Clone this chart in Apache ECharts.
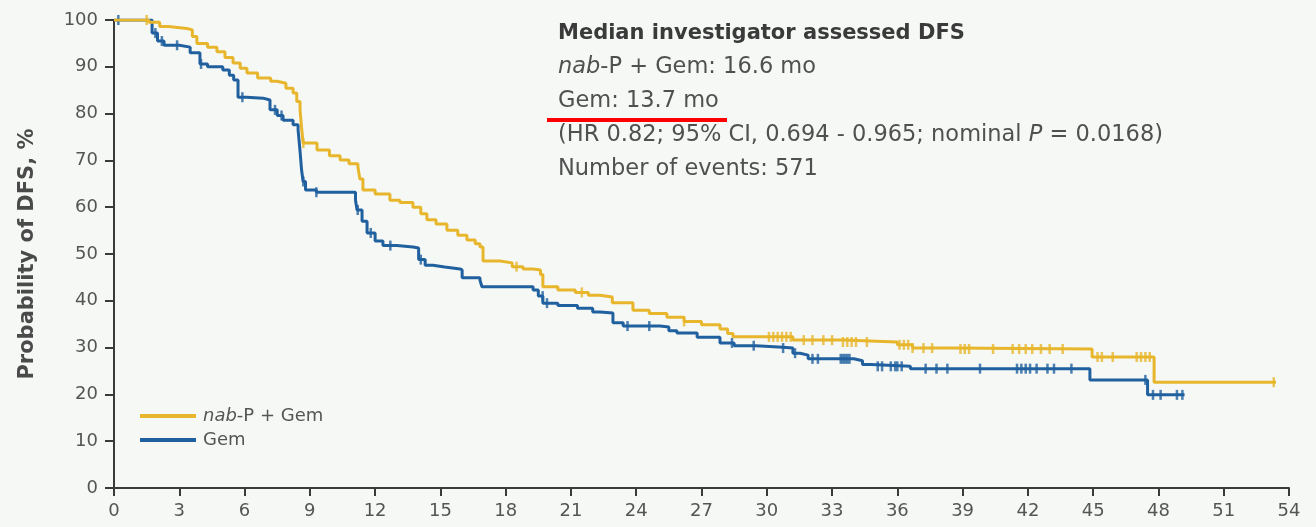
<!DOCTYPE html>
<html>
<head>
<meta charset="utf-8">
<script src="https://cdn.jsdelivr.net/npm/echarts@6/dist/echarts.min.js"></script>
<style>
  html, body { margin: 0; padding: 0; background: #f5f8f5; }
  #chart { width: 1316px; height: 527px; }
</style>
</head>
<body>
<div id="chart"></div>
<script>
// Kaplan-Meier estimates of disease-free survival: [month, probability %]
const nabCurve = [
  [0, 100], [1.4, 100], [1.6, 99.5], [2.1, 98.6], [2.5, 98.2], [3.35, 97.9], [3.6, 96.5],
  [3.81, 95.0], [4.3, 94.2], [4.73, 93.2], [5.1, 92.0], [5.47, 90.8], [5.8, 89.7], [6.11, 88.7],
  [6.6, 87.6], [7.2, 86.9], [7.49, 86.5], [7.9, 85.4], [8.23, 84.4], [8.4, 82.6], [8.55, 80.8],
  [8.62, 77.0], [8.69, 73.7], [9.33, 72.2], [9.9, 71.0], [10.39, 70.1], [10.8, 69.3], [11.21, 68.6],
  [11.3, 66.0], [11.44, 63.7], [12.0, 62.8], [12.68, 61.5], [13.14, 61.0], [13.74, 60.0], [14.1, 58.6],
  [14.38, 57.3], [14.8, 56.4], [15.3, 55.1], [15.8, 54.0], [16.22, 53.0], [16.6, 52.2], [16.82, 51.5],
  [16.96, 48.5], [17.74, 48.1], [18.3, 47.3], [18.8, 46.8], [19.26, 46.6], [19.6, 45.6], [19.71, 43.0],
  [20.4, 42.3], [21.2, 41.8], [21.8, 41.2], [22.33, 40.8], [22.9, 39.6], [23.85, 38.0], [24.6, 37.3],
  [25.41, 36.5], [26.2, 35.6], [27.0, 34.9], [27.85, 34.0], [28.2, 33.0], [28.45, 32.3], [31.2, 31.6],
  [33.5, 31.2], [36.0, 30.6], [36.7, 29.9], [38.5, 29.7], [44.95, 28.0], [47.8, 22.6], [53.4, 22.6]
];
const gemCurve = [
  [0, 100], [1.6, 100], [1.75, 97.2], [2.0, 95.5], [2.3, 94.6], [3.0, 94.2], [3.5, 93.0],
  [3.95, 90.6], [4.3, 90.0], [5.0, 89.3], [5.3, 88.2], [5.5, 87.2], [5.7, 83.5], [6.1, 83.3],
  [6.85, 82.9], [7.17, 80.8], [7.5, 79.6], [7.77, 78.6], [8.23, 77.6], [8.46, 76.5], [8.55, 72.0],
  [8.62, 68.0], [8.69, 65.5], [8.8, 63.7], [9.3, 63.2], [11.1, 61.5], [11.17, 59.4], [11.4, 57.0],
  [11.63, 54.5], [12.0, 52.8], [12.36, 51.8], [13.0, 51.5], [13.74, 51.3], [14.0, 48.8], [14.3, 47.6],
  [14.66, 47.2], [15.2, 46.8], [15.9, 46.6], [16.0, 44.9], [16.82, 44.4], [16.91, 43.0], [19.26, 42.3],
  [19.5, 41.0], [19.71, 39.5], [20.4, 39.0], [21.3, 38.4], [22.0, 37.6], [22.33, 37.4], [22.93, 35.3],
  [23.4, 34.6], [25.09, 34.4], [25.5, 33.6], [25.87, 33.1], [26.8, 32.2], [27.85, 31.0], [28.5, 30.4],
  [29.5, 30.1], [30.74, 29.9], [31.2, 28.8], [31.53, 28.4], [31.9, 27.6], [34.0, 27.2], [34.4, 26.4],
  [34.8, 26.0], [36.6, 25.5], [44.85, 23.1], [47.5, 19.9], [49.2, 19.9]
];

// Censoring times (months)
const nabCensor = [
  1.5, 8.7, 18.5, 21.5, 26.2, 30.1, 30.3, 30.5, 30.7, 30.9, 31.1, 31.7, 32.1, 32.6, 33.0, 33.5, 33.7,
  33.9, 34.1, 34.6, 36.1, 36.3, 36.5, 36.7, 37.2, 37.6, 38.9, 39.1, 39.3, 40.4, 41.3, 41.6, 41.9,
  42.2, 42.6, 43.0, 43.6, 45.2, 45.4, 45.9, 47.0, 47.2, 47.4, 47.6, 53.3
];
const gemCensor = [
  0.2, 1.9, 2.2, 2.9, 4.0, 5.9, 7.4, 7.7, 8.7, 9.3, 11.2, 11.8, 12.7, 14.1, 19.7, 19.9, 23.6, 24.6,
  28.4, 29.4, 30.75, 31.3, 32.1, 32.35, 33.4, 33.5, 33.6, 33.7, 33.8, 35.1, 35.3, 35.7, 35.9, 36.0,
  36.2, 37.3, 37.8, 38.3, 39.8, 41.5, 41.7, 41.9, 42.1, 42.4, 42.9, 43.2, 44.0, 47.4, 47.75, 48.1,
  48.85, 49.1
];

const seriesNames = ['nab-P + Gem', 'Gem'];
const seriesColors = ['#e7b62c', '#21609f'];

const annotationLines = [
  'Median investigator assessed DFS',
  '{i|nab}-P + Gem: 16.6 mo',
  'Gem: 13.7 mo',
  '(HR 0.82; 95% CI, 0.694 - 0.965; nominal {i|P} = 0.0168)',
  'Number of events: 571'
];

// Step value of a KM curve at a given time
function survivalAt(curve, t) {
  let s = curve[0][1];
  for (const [ti, si] of curve) {
    if (ti <= t) s = si; else break;
  }
  return s;
}

const FONT = 'DejaVu Sans';
const chart = echarts.init(document.getElementById('chart'));

function kmSeries(name, curve, color, z) {
  return {
    name: name,
    type: 'line',
    step: 'end',
    data: curve,
    showSymbol: false,
    symbol: 'none',
    z: z,
    lineStyle: { color: color, width: 3 },
    itemStyle: { color: color },
    animation: false
  };
}

function censorSeries(name, curve, times, color, z) {
  return {
    name: name,
    type: 'scatter',
    data: times.map(t => [t, survivalAt(curve, t)]),
    symbol: 'rect',
    symbolSize: [2.5, 10],
    z: z,
    itemStyle: { color: color },
    silent: true,
    animation: false
  };
}

const BODY_SIZE = 22.5;
const bodyRich = {
  i: { fontFamily: FONT, fontSize: BODY_SIZE, fontStyle: 'italic', fill: '#505050', color: '#505050' }
};

const graphicTexts = annotationLines.map((line, idx) => ({
  type: 'text',
  left: 558,
  top: [23, 56, 90, 124, 158][idx],
  style: {
    text: line,
    fontFamily: FONT,
    fontSize: idx === 0 ? 21 : BODY_SIZE,
    fontWeight: idx === 0 ? 'bold' : 'normal',
    fill: idx === 0 ? '#3a3a3a' : '#505050',
    rich: bodyRich
  }
}));

chart.setOption({
  backgroundColor: '#f5f8f5',
  animation: false,
  grid: { left: 114, right: 27, top: 20, bottom: 39, containLabel: false },
  xAxis: {
    type: 'value',
    min: 0,
    max: 54,
    interval: 3,
    axisLine: { show: true, lineStyle: { color: '#3a3a3a', width: 2 } },
    axisTick: { show: true, length: 8, lineStyle: { color: '#3a3a3a', width: 2 } },
    axisLabel: { fontFamily: FONT, fontSize: 18, color: '#555', margin: 14 },
    splitLine: { show: false }
  },
  yAxis: {
    type: 'value',
    min: 0,
    max: 100,
    interval: 10,
    name: 'Probability of DFS, %',
    nameLocation: 'middle',
    nameGap: 76,
    nameTextStyle: { fontFamily: FONT, fontSize: 21, fontWeight: 'bold', color: '#4a4a4a' },
    axisLine: { show: true, lineStyle: { color: '#3a3a3a', width: 2 } },
    axisTick: { show: true, length: 9, lineStyle: { color: '#3a3a3a', width: 2 } },
    axisLabel: { fontFamily: FONT, fontSize: 18, color: '#555', margin: 16 },
    splitLine: { show: false }
  },
  legend: {
    data: seriesNames,
    orient: 'vertical',
    left: 135,
    top: 402,
    icon: 'rect',
    itemWidth: 56,
    itemHeight: 4,
    itemGap: 6,
    formatter: name => name === 'nab-P + Gem' ? '{i|nab}-P + Gem' : name,
    textStyle: {
      fontFamily: FONT,
      fontSize: 18,
      color: '#555',
      padding: [0, 0, 0, 2],
      rich: { i: { fontFamily: FONT, fontSize: 18, fontStyle: 'italic', color: '#555' } }
    }
  },
  graphic: [
    ...graphicTexts,
    {
      type: 'rect',
      left: 547,
      top: 118,
      shape: { width: 180, height: 4 },
      style: { fill: '#ff0000' }
    }
  ],
  series: [
    kmSeries(seriesNames[1], gemCurve, seriesColors[1], 2),
    censorSeries('Gem censored', gemCurve, gemCensor, seriesColors[1], 3),
    kmSeries(seriesNames[0], nabCurve, seriesColors[0], 4),
    censorSeries('nab-P + Gem censored', nabCurve, nabCensor, seriesColors[0], 5)
  ]
});
</script>
</body>
</html>
